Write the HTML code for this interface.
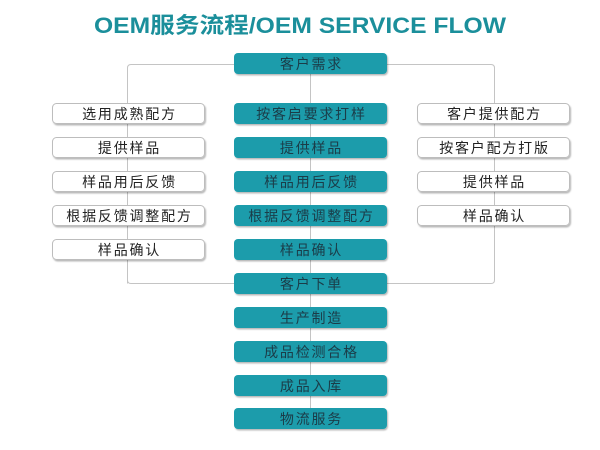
<!DOCTYPE html>
<html><head><meta charset="utf-8">
<style>
html,body{margin:0;padding:0;background:#fff;}
svg{display:block;}
.t{font-family:"Liberation Sans","Noto Sans CJK SC",sans-serif;font-size:14px;letter-spacing:1.8px;text-anchor:middle;}
.w{fill:#222;}
.c{fill:#1b3c48;}
</style></head>
<body>
<svg width="600" height="450" viewBox="0 0 600 450" xmlns="http://www.w3.org/2000/svg">
<defs>
<filter id="sh" x="-10%" y="-30%" width="120%" height="170%">
<feDropShadow dx="1" dy="1.5" stdDeviation="0.8" flood-color="#000" flood-opacity="0.28"/>
</filter>
</defs>
<text x="300" y="33" font-family="Liberation Sans,'Noto Sans CJK SC',sans-serif" font-weight="bold" font-size="22" fill="#1b8f9b" text-anchor="middle" textLength="412" lengthAdjust="spacingAndGlyphs">OEM服务流程/OEM SERVICE FLOW</text>

<g fill="none" stroke="#c4c4c4" stroke-width="1">
<path d="M127.5,283.5 V68 Q127.5,64.5 131,64.5 H491 Q494.5,64.5 494.5,68 V280 Q494.5,283.5 491,283.5 H131 Q127.5,283.5 127.5,280"/>
<path d="M310.5,64 V418"/>
</g>

<g filter="url(#sh)">
<g fill="#fff" stroke="#bdbdbd" stroke-width="1">
<rect x="52.5" y="103.5" width="152" height="20" rx="4"/>
<rect x="52.5" y="137.5" width="152" height="20" rx="4"/>
<rect x="52.5" y="171.5" width="152" height="20" rx="4"/>
<rect x="52.5" y="205.5" width="152" height="20" rx="4"/>
<rect x="52.5" y="239.5" width="152" height="20" rx="4"/>
<rect x="417.5" y="103.5" width="152" height="20" rx="4"/>
<rect x="417.5" y="137.5" width="152" height="20" rx="4"/>
<rect x="417.5" y="171.5" width="152" height="20" rx="4"/>
<rect x="417.5" y="205.5" width="152" height="20" rx="4"/>
</g>
<g fill="#1a9cab">
<rect x="234" y="53" width="153" height="21" rx="4"/>
<rect x="234" y="103" width="153" height="21" rx="4"/>
<rect x="234" y="137" width="153" height="21" rx="4"/>
<rect x="234" y="171" width="153" height="21" rx="4"/>
<rect x="234" y="205" width="153" height="21" rx="4"/>
<rect x="234" y="239" width="153" height="21" rx="4"/>
<rect x="234" y="273" width="153" height="21" rx="4"/>
<rect x="234" y="307" width="153" height="21" rx="4"/>
<rect x="234" y="341" width="153" height="21" rx="4"/>
<rect x="234" y="375" width="153" height="21" rx="4"/>
<rect x="234" y="408" width="153" height="21" rx="4"/>
</g>
</g>

<g class="t w">
<text x="129.5" y="119">选用成熟配方</text>
<text x="129.5" y="153">提供样品</text>
<text x="129.5" y="187">样品用后反馈</text>
<text x="129.5" y="221">根据反馈调整配方</text>
<text x="129.5" y="255">样品确认</text>
<text x="494.5" y="119">客户提供配方</text>
<text x="494.5" y="153">按客户配方打版</text>
<text x="494.5" y="187">提供样品</text>
<text x="494.5" y="221">样品确认</text>
</g>
<g class="t c">
<text x="311.5" y="69">客户需求</text>
<text x="311.5" y="119">按客启要求打样</text>
<text x="311.5" y="153">提供样品</text>
<text x="311.5" y="187">样品用后反馈</text>
<text x="311.5" y="221">根据反馈调整配方</text>
<text x="311.5" y="255">样品确认</text>
<text x="311.5" y="289">客户下单</text>
<text x="311.5" y="323">生产制造</text>
<text x="311.5" y="357">成品检测合格</text>
<text x="311.5" y="391">成品入库</text>
<text x="311.5" y="424">物流服务</text>
</g>
</svg>
</body></html>
